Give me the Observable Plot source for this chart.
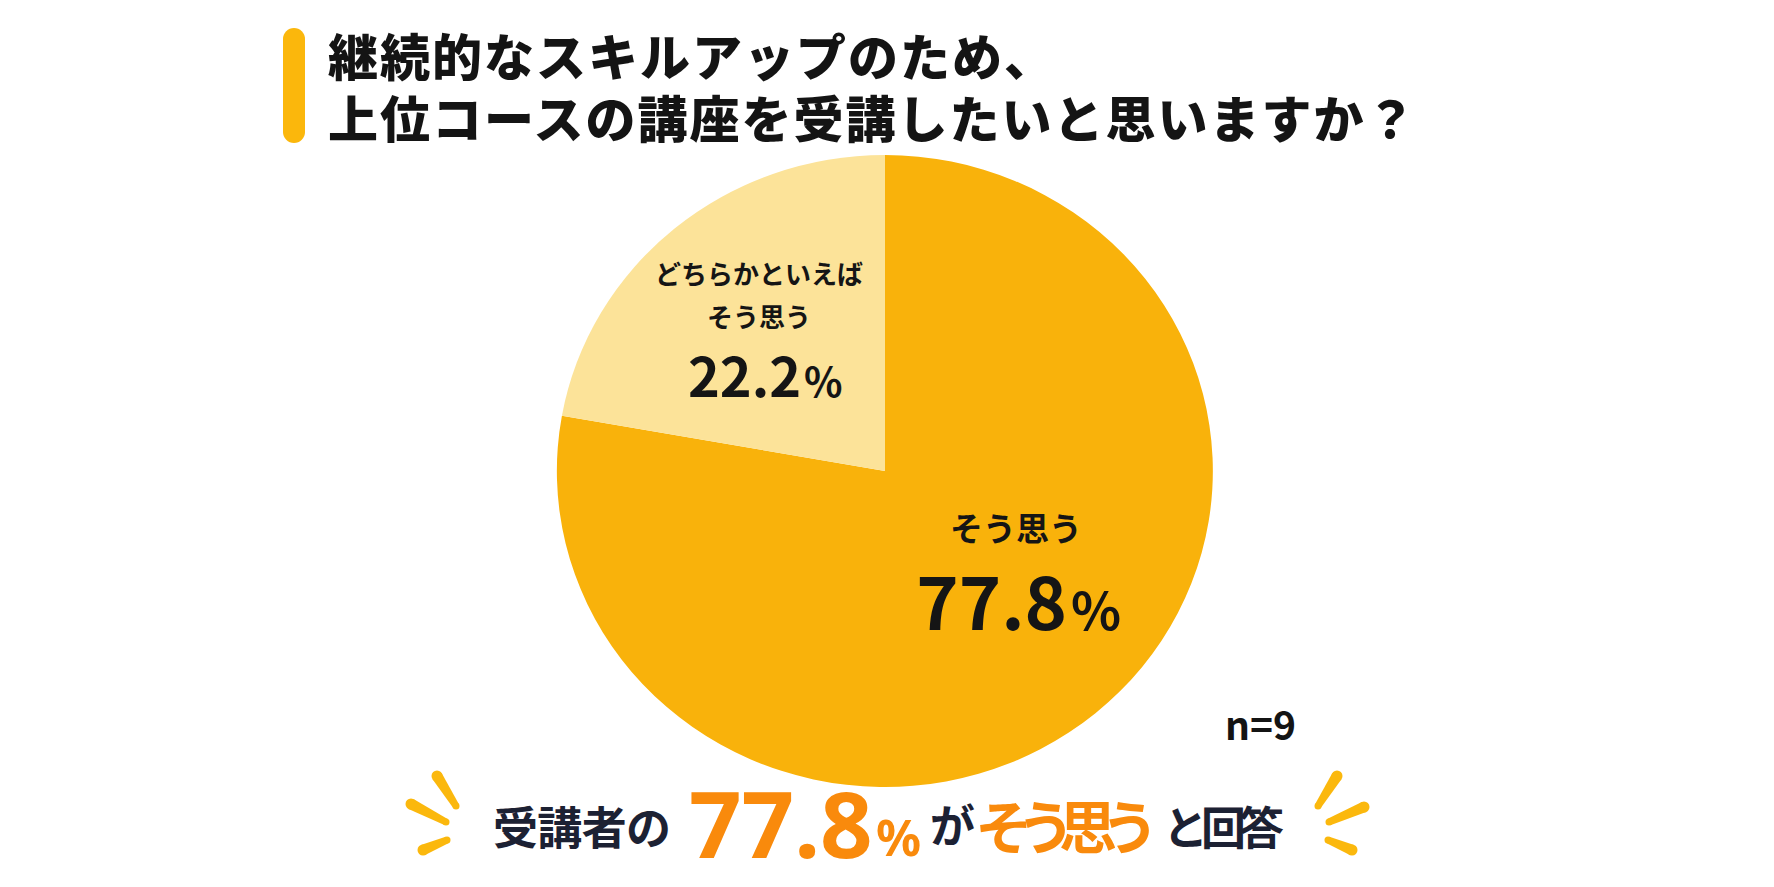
<!DOCTYPE html>
<html lang="ja">
<head>
<meta charset="utf-8">
<script src="https://cdn.jsdelivr.net/npm/d3@7"></script>
<script src="https://cdn.jsdelivr.net/npm/@observablehq/plot@0.6"></script>
<style>
  html, body { margin: 0; padding: 0; background: #ffffff; }
  body { width: 1774px; height: 887px; overflow: hidden; font-family: "Noto Sans CJK JP", "Noto Sans", sans-serif; }
  #wrap { position: relative; width: 1774px; height: 887px; }
  #chart { position: absolute; left: 0; top: 0; }
  #titlebar { position: absolute; left: 283px; top: 28px; width: 22px; height: 115px; border-radius: 11px; background: #FBB70C; }
  .tline { position: absolute; left: 328px; margin: 0; height: 58px; font-size: 50px; line-height: 58px; font-weight: 900; letter-spacing: 2px; color: #141414; white-space: nowrap; }
  #n { position: absolute; left: 1225px; top: 704px; font-size: 39px; font-weight: 700; color: #141414; line-height: 1; }
  #overlay { position: absolute; left: 0; top: 0; pointer-events: none; }
</style>
</head>
<body>
<div id="wrap">
  <div id="chart"></div>
  <div id="titlebar"></div>
  <h1 id="title" style="margin:0"></h1>
  <div id="n"></div>
  <svg id="overlay" width="1774" height="887"></svg>
</div>
<script>
// ---- data ----
const titleLines = ["継続的なスキルアップのため、", "上位コースの講座を受講したいと思いますか？"];
const categories = ["そう思う", "どちらかといえばそう思う"];
const labelText = ["そう思う", "どちらかといえば\nそう思う"];
const percentages = [77.8, 22.2];
const respondents = 9;
const headlineParts = ["受講者の", "77.8", "%", "が", "そう思う", "と回答"];

// ---- styles ----
const sliceColors = ["#F9B20B", "#FCE399"];
const dark = "#151515";
const navy = "#1c2133";
const orange = "#F98A0C";
const spark = "#FBB80D";

const titleEl = document.getElementById("title");
const titleTops = [25, 87];
titleLines.forEach((t, i) => {
  const s = document.createElement("span");
  s.className = "tline";
  s.style.top = titleTops[i] + "px";
  s.textContent = t;
  titleEl.appendChild(s);
});
document.getElementById("n").textContent = `n=${respondents}`;

const rows = categories.map((c, i) => ({category: c, label: labelText[i], value: percentages[i]}));
const arcs = d3.pie().sort(null).value(d => d.value)(rows);

// label anchors derived from the slice angles
const frac = [0.52, 0.6];
const anchors = arcs.map((a, i) => {
  const mid = (a.startAngle + a.endAngle) / 2;
  return {
    x: Math.sin(mid) * frac[i],
    y: Math.cos(mid) * frac[i],
    label: a.data.label,
    num: a.data.value.toFixed(1),
    pct: "%"
  };
});

function pieMark(index, scales) {
  const cx = scales.x(0), cy = scales.y(0);
  const rx = scales.x(1) - cx, ry = cy - scales.y(1);
  const g = d3.create("svg:g").attr("transform", `translate(${cx},${cy}) scale(${rx},${ry})`);
  const arc = d3.arc().innerRadius(0).outerRadius(1);
  g.selectAll("path").data(arcs).join("path")
    .attr("d", arc)
    .attr("fill", (d, i) => sliceColors[i]);
  return g.node();
}

const font = "Noto Sans CJK JP";
const latin = "Noto Sans";
const big = [anchors[0]], small = [anchors[1]];

const chart = Plot.plot({
  width: 1774,
  height: 887,
  margin: 0,
  style: {background: "transparent", fontFamily: font},
  x: {domain: [-1, 1], range: [557, 1213], axis: null},
  y: {domain: [-1, 1], range: [787, 155], axis: null},
  marks: [
    pieMark,
    // small slice
    Plot.text(small, {x: "x", y: "y", text: "label", fontSize: 26, fontWeight: 700, lineHeight: 1.65, fill: dark, dy: -34, fontFamily: font}),
    Plot.text(small, {x: "x", y: "y", text: "num", fontSize: 54, fontWeight: 700, fill: dark, textAnchor: "end", dx: 42, dy: 54, fontFamily: font}),
    Plot.text(small, {x: "x", y: "y", text: "pct", fontSize: 40, fontWeight: 700, fill: dark, textAnchor: "start", dx: 45, dy: 58, fontFamily: font}),
    // big slice
    Plot.text(big, {x: "x", y: "y", text: "label", fontSize: 33, fontWeight: 700, fill: dark, dx: 21, dy: -67, fontFamily: font}),
    Plot.text(big, {x: "x", y: "y", text: "num", fontSize: 72, fontWeight: 700, fill: dark, textAnchor: "end", dx: 72, dy: 10, fontFamily: font}),
    Plot.text(big, {x: "x", y: "y", text: "pct", fontSize: 52, fontWeight: 700, fill: dark, textAnchor: "start", dx: 76, dy: 16, fontFamily: font})
  ]
});
document.getElementById("chart").appendChild(chart);

// ---- headline caption & sparkles ----
const ov = d3.select("#overlay");
const capStyle = [
  {x: 493, y: 845, size: 45, color: navy, family: font, len: 178},
  {x: 689, y: 858, size: 92, color: orange, family: latin, len: null},
  {x: 876, y: 856, size: 50, color: orange, family: latin, len: null},
  {x: 930, y: 843, size: 45, color: navy, family: font, len: null},
  {x: 975, y: 849, size: 58, color: orange, family: font, len: 184},
  {x: 1163, y: 845, size: 45, color: navy, family: font, len: 121}
];
headlineParts.forEach((t, i) => {
  const s = capStyle[i];
  const el = ov.append("text").attr("x", s.x).attr("y", s.y)
    .attr("font-family", s.family).attr("font-weight", 700).attr("font-size", s.size)
    .attr("fill", s.color)
    .text(t);
  if (s.len) el.attr("textLength", s.len).attr("lengthAdjust", "spacing");
});

function taper(x1, y1, r1, x2, y2, r2) {
  const a = Math.atan2(y2 - y1, x2 - x1);
  const nx = -Math.sin(a), ny = Math.cos(a);
  const g = ov.append("g").attr("fill", spark);
  g.append("polygon").attr("points", [
    [x1 + nx * r1, y1 + ny * r1], [x2 + nx * r2, y2 + ny * r2],
    [x2 - nx * r2, y2 - ny * r2], [x1 - nx * r1, y1 - ny * r1]
  ].map(p => p.join(",")).join(" "));
  g.append("circle").attr("cx", x1).attr("cy", y1).attr("r", r1);
  g.append("circle").attr("cx", x2).attr("cy", y2).attr("r", r2);
}
[
  [437, 776, 5.5, 456, 806, 3.5],
  [411, 804, 5.5, 446, 822, 3.5],
  [423, 850, 5.5, 447, 840, 3.5],
  [1337, 776, 5.5, 1318, 806, 3.5],
  [1364, 807, 5.5, 1329, 822, 3.5],
  [1352, 850, 5.5, 1328, 840, 3.5]
].forEach(s => taper(...s));
</script>
</body>
</html>
